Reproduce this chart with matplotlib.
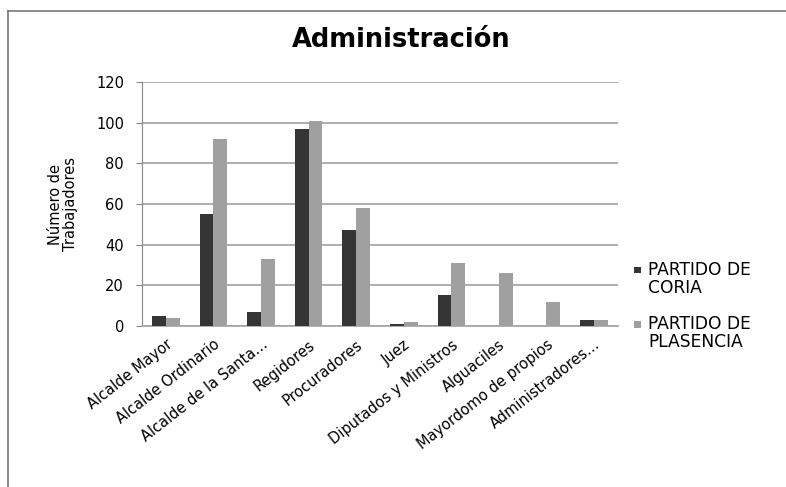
import numpy as np
import matplotlib
matplotlib.use('Agg')
import matplotlib.pyplot as plt
from matplotlib.lines import Line2D
from matplotlib.patches import Rectangle

categories = ['Alcalde Mayor', 'Alcalde Ordinario', 'Alcalde de la Santa…', 'Regidores',
              'Procuradores', 'Juez', 'Diputados y Ministros', 'Alguaciles',
              'Mayordomo de propios', 'Administradores…']
coria = [5, 55, 7, 97, 47, 1, 15, 0, 0, 3]
plasencia = [4, 92, 33, 101, 58, 2, 31, 26, 12, 3]
series_names = ['PARTIDO DE\nCORIA', 'PARTIDO DE\nPLASENCIA']
series_colors = ['#353535', '#a0a0a0']
yticks = [0, 20, 40, 60, 80, 100, 120]

plt.rcParams['font.family'] = ['DejaVu Sans']

fig = plt.figure(figsize=(7.86, 4.87), dpi=100)
ax = fig.add_axes([0.1807, 0.3306, 0.6054, 0.501])

x = np.arange(len(categories))
w = 0.29
ax.bar(x - w / 2, coria, width=w, color=series_colors[0], zorder=3)
ax.bar(x + w / 2, plasencia, width=w, color=series_colors[1], zorder=3)

ax.set_xlim(-0.5, len(categories) - 0.5)
ax.set_ylim(0, 120)
ax.set_yticks(yticks)
ax.yaxis.grid(True, color='#a8a8a8', linewidth=1.3, zorder=0)
ax.tick_params(axis='y', length=4, color='#888888', labelsize=10.5, pad=9)
ax.tick_params(axis='x', length=0, labelsize=10.5, pad=8)
ax.set_xticks(x)
ax.set_xticklabels(categories, rotation=38, ha='right', va='top', rotation_mode='anchor')

for s in ['top', 'right']:
    ax.spines[s].set_visible(False)
ax.spines['left'].set_color('#888888')
ax.spines['bottom'].set_color('#a8a8a8')
ax.spines['bottom'].set_linewidth(1.3)

ax.set_ylabel('Número de\nTrabajadores', fontsize=10.5, linespacing=0.95)
ax.yaxis.set_label_coords(-0.135, 0.5)

fig.text(0.51, 0.918, 'Administración', fontsize=18.5, fontweight='bold', ha='center', va='center')

# legend, marker next to the first line of each label
leg_y = [0.465, 0.354]
for name, col, yy in zip(series_names, series_colors, leg_y):
    fig.add_artist(Rectangle((0.8065, yy - 0.0265), 0.0085, 0.0135, transform=fig.transFigure,
                             facecolor=col, edgecolor='none'))
    fig.text(0.825, yy, name, fontsize=12.3, ha='left', va='top', linespacing=1.0)

# border lines (top and left)
fig.add_artist(Line2D([0.0102, 1.0], [0.977, 0.977], color='#777777', linewidth=1.2))
fig.add_artist(Line2D([0.0102, 0.0102], [0.0, 0.977], color='#777777', linewidth=1.2))

fig.savefig('out.png', dpi=100)
